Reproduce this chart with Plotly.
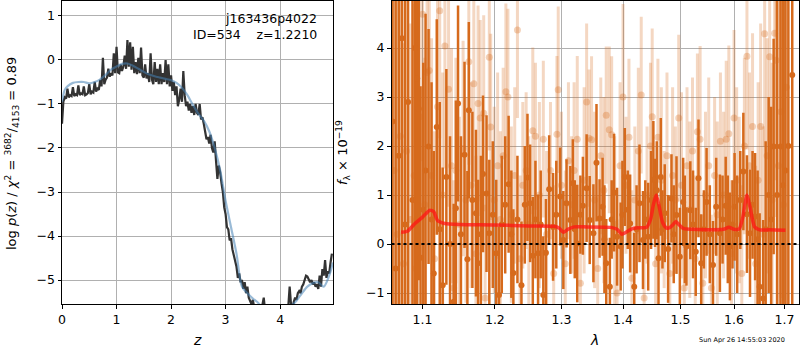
import plotly.graph_objects as go
import math

# ---------------- left panel: redshift PDF ----------------
z_grid = [0.000, 0.025, 0.050, 0.075, 0.100, 0.125, 0.150, 0.175, 0.200, 0.225, 0.250, 0.275, 0.300, 0.325, 0.350, 0.375,
          0.400, 0.425, 0.450, 0.475, 0.500, 0.525, 0.550, 0.575, 0.600, 0.625, 0.650, 0.675, 0.700, 0.725, 0.750, 0.775,
          0.800, 0.825, 0.850, 0.875, 0.900, 0.925, 0.950, 0.975, 1.000, 1.025, 1.050, 1.075, 1.100, 1.125, 1.150, 1.175,
          1.200, 1.225, 1.250, 1.275, 1.300, 1.325, 1.350, 1.375, 1.400, 1.425, 1.450, 1.475, 1.500, 1.525, 1.550, 1.575,
          1.600, 1.625, 1.650, 1.675, 1.700, 1.725, 1.750, 1.775, 1.800, 1.825, 1.850, 1.875, 1.900, 1.925, 1.950, 1.975,
          2.000, 2.025, 2.050, 2.075, 2.100, 2.125, 2.150, 2.175, 2.200, 2.225, 2.250, 2.275, 2.300, 2.325, 2.350, 2.375,
          2.400, 2.425, 2.450, 2.475, 2.500, 2.525, 2.550, 2.575, 2.600, 2.625, 2.650, 2.675, 2.700, 2.725, 2.750, 2.775,
          2.800, 2.825, 2.850, 2.875, 2.900, 2.925, 2.950, 2.975, 3.000, 3.025, 3.050, 3.075, 3.100, 3.125, 3.150, 3.175,
          3.200, 3.225, 3.250, 3.275, 3.300, 3.325, 3.350, 3.375, 3.400, 3.425, 3.450, 3.475, 3.500, 3.525, 3.550, 3.575,
          3.600, 3.625, 3.650, 3.675, 3.700, 3.725, 3.750, 3.775, 3.800, 3.825, 3.850, 3.875, 3.900, 3.925, 3.950, 3.975,
          4.000, 4.025, 4.050, 4.075, 4.100, 4.125, 4.150, 4.175, 4.200, 4.225, 4.250, 4.275, 4.300, 4.325, 4.350, 4.375,
          4.400, 4.425, 4.450, 4.475, 4.500, 4.525, 4.550, 4.575, 4.600, 4.625, 4.650, 4.675, 4.700, 4.725, 4.750, 4.775,
          4.800, 4.825, 4.850, 4.875, 4.900, 4.925, 4.950]
log_pz = [-1.45, -0.95, -0.85, -0.88, -0.65, -0.85, -0.80, -0.82, -0.62, -0.82, -0.78, -0.80, -0.58, -0.80, -0.76, -0.78,
          -0.60, -0.80, -0.78, -0.75, -0.55, -0.78, -0.72, -0.74, -0.50, -0.72, -0.65, -0.68, -0.45, -0.60, 0.05, -0.55,
          -0.45, -0.40, -0.20, -0.38, -0.30, -0.35, 0.15, -0.30, 0.30, -0.28, -0.30, -0.10, -0.25, -0.15, 0.10, -0.20,
          0.45, -0.15, 0.40, -0.22, 0.30, -0.30, -0.05, -0.32, 0.05, -0.30, 0.28, -0.35, -0.40, -0.10, -0.42, -0.30,
          -0.50, 0.15, -0.45, -0.55, -0.05, -0.50, -0.20, -0.55, -0.10, -0.55, -0.30, -0.50, 0.00, -0.55, -0.10, -0.60,
          -0.35, -0.70, -0.50, -0.80, -0.60, -1.05, -0.90, -0.65, -0.95, -0.25, -0.80, -1.05, -0.95, -1.15, -1.00, -1.20,
          -1.05, -1.25, -1.00, -1.20, -1.25, -1.00, -1.35, -1.30, -1.45, -1.60, -1.80, -1.75, -1.90, -1.70, -2.00, -2.10,
          -1.85, -2.30, -2.70, -2.40, -2.55, -2.80, -3.00, -3.35, -3.50, -3.80, -3.85, -4.10, -4.05, -4.30, -4.45, -4.55,
          -4.70, -4.95, -4.85, -5.05, -5.00, -5.20, -5.05, -5.30, -5.15, -5.40, -5.50, -5.55, -5.45, -5.65, -5.80, -5.85,
          -5.70, -5.90, -5.75, -5.60, -5.40, -5.70, -5.95, -6.10, -6.00, -6.20, -6.10, -6.30, -6.20, -6.10, -6.25, -6.10,
          -6.00, -6.15, -5.95, -6.05, -5.85, -5.75, -5.60, -5.15, -5.55, -5.65, -5.50, -5.40, -5.45, -5.30, -5.25, -5.30,
          -5.15, -5.10, -5.00, -4.90, -4.92, -5.00, -5.05, -5.00, -5.10, -5.05, -5.15, -5.10, -5.20, -4.90, -5.15, -4.75,
          -4.90, -4.55, -4.95, -4.80, -4.85, -4.60, -4.40]

z_smooth = [0.0, 0.05, 0.1, 0.2, 0.3, 0.4, 0.5, 0.6, 0.7, 0.8, 0.9, 1.0, 1.1, 1.2, 1.3, 1.4, 1.5, 1.6, 1.7, 1.8, 1.9,
            2.0, 2.1, 2.2, 2.3, 2.4, 2.5, 2.6, 2.7, 2.8, 2.9, 3.0, 3.1, 3.2, 3.3, 3.4, 3.5, 3.6, 3.7, 3.8, 3.9, 4.0,
            4.1, 4.2, 4.3, 4.4, 4.5, 4.6, 4.7, 4.8, 4.9, 4.97]
log_pz_smooth = [-0.95, -0.68, -0.60, -0.52, -0.50, -0.50, -0.53, -0.50, -0.44, -0.34, -0.22, -0.15, -0.09, -0.08,
                 -0.13, -0.20, -0.27, -0.33, -0.37, -0.40, -0.43, -0.46, -0.52, -0.63, -0.80, -1.02, -1.22, -1.38,
                 -1.62, -2.00, -2.50, -3.20, -3.80, -4.40, -5.15, -5.30, -5.42, -5.52, -5.70, -5.85, -5.90, -5.90,
                 -5.80, -5.60, -5.47, -5.30, -5.15, -5.07, -5.05, -5.15, -4.90, -4.60]

# ---------------- right panel: spectrum ----------------
dark_wave = [1.061, 1.065, 1.069, 1.073, 1.077, 1.081, 1.0868, 1.090, 1.093, 1.095, 1.0974, 1.101, 1.104, 1.108, 1.112,
             1.115, 1.119, 1.123, 1.127, 1.132, 1.137, 1.142, 1.145, 1.148, 1.152, 1.157, 1.161, 1.163, 1.168, 1.173,
             1.176, 1.180, 1.183, 1.188, 1.192, 1.197, 1.202, 1.206, 1.210, 1.215, 1.220, 1.224, 1.227, 1.233, 1.239,
             1.244, 1.248, 1.252, 1.256, 1.260, 1.264, 1.268, 1.272, 1.276, 1.281, 1.287, 1.292, 1.298, 1.303, 1.308,
             1.314, 1.318, 1.321, 1.325, 1.330, 1.334, 1.340, 1.345, 1.351, 1.356, 1.361, 1.366, 1.369, 1.372, 1.378,
             1.381, 1.385, 1.390, 1.396, 1.399, 1.403, 1.408, 1.412, 1.419, 1.423, 1.428, 1.434, 1.438, 1.443, 1.448,
             1.452, 1.455, 1.458, 1.461, 1.465, 1.468, 1.472, 1.478, 1.484, 1.488, 1.493, 1.499, 1.505, 1.508, 1.511,
             1.518, 1.523, 1.528, 1.533, 1.538, 1.543, 1.548, 1.554, 1.560, 1.566, 1.573, 1.578, 1.584, 1.588, 1.592,
             1.597, 1.601, 1.606, 1.612, 1.618, 1.625, 1.631, 1.636, 1.641, 1.646, 1.650, 1.657, 1.662, 1.668, 1.673,
             1.678, 1.685, 1.692, 1.697, 1.702, 1.708, 1.716]
dark_flux = [2.5, -0.5, 1.8, 4.2, 0.4, 2.9, 0.90, 4.0, 3.38, 2.76, -0.28, 0.7, 1.5, 1.99, 0.5,
             -0.6, 2.39, 0.3, -0.84, 1.37, 0.0, -1.18, 0.73, 2.87, 0.2, 1.82, -0.31, 2.73, 0.9, 0.63,
             -0.39, 0.2, 1.43, 1.03, 0.22, 0.6, -0.19, -1.04, 0.4, 0.8, 1.22, 0.2, -0.59, 0.5, -0.84,
             0.80, 1.36, 0.83, -0.24, 0.5, -0.19, 0.4, -1.04, -0.18, 1.12, 0.35, 0.6, 0.97, 0.08, 0.83,
             0.49, 1.24, 0.3, 0.01, 0.6, 0.78, 1.14, 0.49, 0.22, 1.66, 0.52, 0.76, 0.1, -0.39, -0.87,
             0.5, 1.05, 0.15, -0.05, 0.6, 1.37, 0.7, 0.42, -0.87, 0.3, 0.83, 0.08, 0.5, 0.15, 0.9,
             1.31, 0.84, 1.1, -0.29, 1.37, 0.3, 0.63, -0.1, 0.93, 0.2, 0.59, -0.26, 0.86, 0.3, -0.05,
             0.69, 0.4, -0.16, 1.34, -0.39, 0.3, 0.86, 0.2, -0.43, 0.76, 0.22, 0.5, 0.78, 0.3, -0.05,
             0.4, 0.76, 0.2, 0.9, 1.48, 0.61, 0.22, 0.8, 0.56, 0.1, -0.87, -1.11, 0.3, 1.0, 0.5,
             1.99, 1.0, 1.99, 1.2, 1.5, 2.0, 3.45]
dark_err = [9.0, 8.0, 9.0, 7.0, 8.0, 7.0, 6.0, 6.0, 5.0, 3.5, 3.5, 3.0, 3.2, 2.4, 2.8,
            2.5, 2.2, 2.6, 2.4, 2.2, 2.2, 2.0, 2.2, 2.0, 2.0, 1.9, 1.8, 1.8, 1.8, 1.7,
            1.7, 1.6, 1.6, 1.6, 1.5, 1.5, 1.5, 1.4, 1.4, 1.4, 1.4, 1.3, 1.3, 1.3, 1.3,
            1.2, 1.3, 1.2, 1.2, 1.2, 1.2, 1.1, 1.2, 1.1, 1.1, 1.1, 1.1, 1.0, 1.0, 0.9,
            1.1, 0.9, 1.0, 1.2, 0.8, 1.0, 1.1, 0.9, 1.0, 1.2, 0.8, 1.0, 1.1, 0.9, 1.0,
            0.8, 1.2, 1.0, 0.9, 1.1, 1.0, 0.8, 1.0, 1.1, 0.9, 1.2, 1.0, 0.8, 1.1, 1.0,
            1.2, 0.9, 1.0, 1.1, 1.2, 0.8, 1.0, 1.1, 0.9, 1.0, 1.2, 1.0, 0.9, 1.1, 0.8,
            1.0, 1.1, 0.9, 1.2, 1.0, 0.8, 1.1, 1.0, 0.9, 1.0, 1.2, 0.9, 1.0, 1.1, 1.1,
            0.9, 1.1, 1.2, 1.0, 1.2, 1.2, 1.3, 1.1, 1.3, 1.4, 1.5, 1.6, 1.8, 2.0, 2.3,
            2.2, 4.0, 4.5, 5.0, 5.5, 6.0, 7.0]

light_wave = [1.063, 1.067, 1.071, 1.075, 1.079, 1.084, 1.089, 1.091, 1.096, 1.100, 1.103, 1.106, 1.109, 1.112, 1.116,
              1.120, 1.123, 1.127, 1.130, 1.135, 1.139, 1.142, 1.145, 1.150, 1.155, 1.159, 1.163, 1.166, 1.170, 1.173,
              1.176, 1.179, 1.184, 1.186, 1.192, 1.194, 1.199, 1.204, 1.208, 1.212, 1.216, 1.219, 1.224, 1.229, 1.233,
              1.237, 1.241, 1.246, 1.250, 1.256, 1.260, 1.266, 1.272, 1.277, 1.283, 1.288, 1.293, 1.295, 1.300, 1.306,
              1.311, 1.316, 1.320, 1.325, 1.330, 1.336, 1.340, 1.344, 1.348, 1.353, 1.358, 1.363, 1.368, 1.372, 1.377,
              1.381, 1.386, 1.390, 1.395, 1.400, 1.405, 1.410, 1.415, 1.420, 1.426, 1.431, 1.436, 1.441, 1.447, 1.450,
              1.456, 1.460, 1.466, 1.471, 1.476, 1.481, 1.486, 1.491, 1.497, 1.502, 1.507, 1.512, 1.517, 1.522, 1.527,
              1.531, 1.536, 1.541, 1.546, 1.552, 1.557, 1.563, 1.568, 1.574, 1.580, 1.585, 1.590, 1.595, 1.600, 1.605,
              1.610, 1.615, 1.620, 1.625, 1.630, 1.636, 1.642, 1.647, 1.652, 1.657, 1.660, 1.665, 1.670, 1.675, 1.680,
              1.683, 1.688, 1.693, 1.698, 1.704]
light_flux = [1.5, 0.2, 2.2, -0.4, 1.9, 0.5, 1.4, -0.5, 2.6, 4.69, 0.8, 3.5, 3.54, 1.4, -0.3,
              2.8, 4.76, 1.0, 4.04, 3.16, 1.6, -0.9, 1.5, 0.4, 1.95, 0.9, 3.72, 1.2, 3.27, -0.2,
              2.87, 2.57, 2.67, -1.1, 3.81, 2.39, 0.9, 1.6, 0.5, 1.8, 3.11, 3.0, 0.6, 1.4, 4.37,
              -0.3, 1.2, 1.5, 0.4, 2.31, 2.2, 1.0, 2.14, 0.2, 1.5, -0.6, 2.24, 3.15, 1.2, -0.4,
              1.7, 0.8, 1.5, 2.14, -0.8, 1.3, 2.90, 2.16, 2.13, 0.9, -0.5, 1.8, 1.1, 2.63, 2.33,
              2.23, 0.4, -1.0, 1.6, 3.0, 1.2, 2.18, -0.7, 0.9, 1.9, 3.04, -1.1, 1.0, 2.0, 2.6,
              -0.4, 2.18, 1.3, 0.5, 1.8, -0.6, 1.4, 0.9, 2.57, 1.2, -0.9, 1.6, 0.7, 1.9, -0.3,
              2.29, 2.14, -0.8, 1.0, 1.6, -0.9, 1.4, 0.6, 2.1, 1.0, 2.14, 2.25, -0.2, 2.57, 1.3,
              0.9, -0.6, 2.0, 3.83, 1.6, 2.4, -0.4, 1.3, 2.4, 0.2, 4.29, 1.8, 3.82, 0.9, 4.3,
              3.75, 1.6, 2.7, 0.8, 3.2]
light_err = [5.0, 5.0, 4.5, 4.5, 4.0, 4.0, 3.5, 3.2, 3.2, 3.0, 3.0, 2.8, 2.8, 2.8, 2.6,
             2.6, 2.6, 2.5, 2.5, 2.4, 2.4, 2.2, 2.3, 2.2, 2.2, 2.1, 2.1, 2.1, 2.0, 2.0,
             2.0, 2.0, 2.0, 1.9, 1.9, 1.9, 1.9, 1.9, 1.8, 1.8, 1.8, 1.8, 1.8, 1.8, 1.8,
             1.7, 1.7, 1.6, 1.8, 1.7, 1.5, 1.9, 1.6, 1.7, 1.4, 1.8, 1.6, 1.7, 1.5, 1.9,
             1.6, 1.4, 1.8, 1.7, 1.5, 1.9, 1.6, 1.4, 1.7, 1.8, 1.5, 1.6, 1.9, 1.4, 1.7,
             1.6, 1.8, 1.5, 1.7, 1.9, 1.4, 1.6, 1.8, 1.5, 1.7, 1.6, 1.9, 1.4, 1.7, 1.8,
             1.5, 1.6, 1.9, 1.4, 1.7, 1.6, 1.8, 1.5, 1.7, 1.9, 1.4, 1.6, 1.8, 1.5, 1.7,
             1.6, 1.9, 1.4, 1.7, 1.8, 1.5, 1.6, 1.9, 1.4, 1.7, 1.6, 1.8, 1.5, 1.8, 1.9,
             1.7, 1.8, 1.8, 1.9, 1.9, 1.9, 2.0, 2.0, 2.1, 2.2, 2.3, 2.4, 2.6, 2.8, 3.0,
             3.2, 3.5, 3.8, 4.2, 4.5]

model_wave = [1.072, 1.080, 1.090, 1.100, 1.1097, 1.115, 1.120, 1.130, 1.150, 1.200, 1.250, 1.290, 1.297, 1.303, 1.310,
              1.320, 1.340, 1.380, 1.390, 1.398, 1.405, 1.415, 1.425, 1.440, 1.447, 1.452, 1.457, 1.462, 1.468, 1.475,
              1.480, 1.487, 1.492, 1.497, 1.505, 1.520, 1.550, 1.580, 1.590, 1.600, 1.610, 1.617, 1.625, 1.631, 1.640,
              1.650, 1.670, 1.702]
model_flux = [0.24, 0.26, 0.42, 0.55, 0.69, 0.66, 0.48, 0.42, 0.40, 0.39, 0.37, 0.36, 0.32, 0.24, 0.30,
              0.35, 0.35, 0.34, 0.30, 0.20, 0.24, 0.31, 0.33, 0.34, 0.50, 0.80, 1.00, 0.78, 0.45, 0.33,
              0.33, 0.40, 0.46, 0.40, 0.32, 0.30, 0.29, 0.30, 0.34, 0.30, 0.31, 0.55, 1.00, 0.75, 0.35,
              0.29, 0.29, 0.28]

x_ticks_left = [0, 1, 2, 3, 4]
y_ticks_left = [-5, -4, -3, -2, -1, 0, 1]
x_ticks_right = [1.1, 1.2, 1.3, 1.4, 1.5, 1.6, 1.7]
y_ticks_right = [-1, 0, 1, 2, 3, 4]

W, H = 800, 350
DARK = "rgb(214,106,28)"
FONT = "DejaVu Sans"

fig = go.Figure()

fig.add_trace(go.Scatter(x=z_grid, y=log_pz, mode="lines", line=dict(color="rgb(51,51,51)", width=2.2),
                         xaxis="x", yaxis="y", showlegend=False))
fig.add_trace(go.Scatter(x=z_smooth, y=log_pz_smooth, mode="lines",
                         line=dict(color="rgba(70,130,180,0.55)", width=2.2, shape="spline", smoothing=0.8),
                         xaxis="x", yaxis="y", showlegend=False))

fig.add_trace(go.Scatter(x=light_wave, y=light_flux, mode="markers",
                         marker=dict(size=7, color="rgba(214,106,28,0.3)", line=dict(width=0)),
                         error_y=dict(type="data", array=light_err, color="rgba(214,106,28,0.27)",
                                      thickness=3, width=0),
                         xaxis="x2", yaxis="y2", showlegend=False))
fig.add_trace(go.Scatter(x=dark_wave, y=dark_flux, mode="markers",
                         marker=dict(size=6, color=DARK, line=dict(width=0)),
                         error_y=dict(type="data", array=dark_err, color=DARK, thickness=2.5, width=0),
                         xaxis="x2", yaxis="y2", showlegend=False))
fig.add_trace(go.Scatter(x=model_wave, y=model_flux, mode="lines",
                         line=dict(color="rgba(255,20,20,0.75)", width=3.5, shape="spline", smoothing=0.6),
                         xaxis="x2", yaxis="y2", showlegend=False))

fig.add_shape(type="line", xref="x2 domain", yref="y2", x0=0, x1=1, y0=0, y1=0,
              line=dict(color="black", width=2, dash="dot"), layer="above")

ydom = [1 - 304 / H, 1 - 1 / H]
common = dict(showgrid=True, gridcolor="#b0b0b0", gridwidth=1, showline=True, linecolor="black", linewidth=1,
              mirror=True, ticks="outside", ticklen=3.5, tickcolor="black", zeroline=False,
              tickfont=dict(family=FONT, size=12.5, color="black"), automargin=False)

fig.update_layout(
    width=W, height=H, margin=dict(l=0, r=0, t=0, b=0),
    paper_bgcolor="white", plot_bgcolor="white",
    font=dict(family=FONT, color="black"),
    xaxis=dict(domain=[62 / W, 333 / W], range=[0, 4.97], tickvals=x_ticks_left, anchor="y", **common),
    yaxis=dict(domain=ydom, range=[-5.545, 1.34], tickvals=y_ticks_left, anchor="x", **common),
    xaxis2=dict(domain=[391.5 / W, 799 / W], type="log", range=[math.log10(1.0597), math.log10(1.730)],
                tickvals=x_ticks_right, ticktext=[f"{v:.1f}" for v in x_ticks_right], anchor="y2", **common),
    yaxis2=dict(domain=ydom, range=[-1.224, 4.96], tickvals=y_ticks_right, anchor="x2", **common),
)

def px(x, y):
    return x / W, 1 - y / H

ann = []
ax_, ay_ = px(319, 19)
ann.append(dict(text="j163436p4022", x=ax_, y=ay_, xanchor="right", yanchor="middle", font=dict(size=12.5)))
ax_, ay_ = px(319, 35)
ann.append(dict(text="ID=534    z=1.2210", x=ax_, y=ay_, xanchor="right", yanchor="middle", font=dict(size=12.5)))
ax_, ay_ = px(197, 340)
ann.append(dict(text="<i>z</i>", x=ax_, y=ay_, xanchor="center", yanchor="middle", font=dict(size=14)))
ax_, ay_ = px(594, 340)
ann.append(dict(text="<i>λ</i>", x=ax_, y=ay_, xanchor="center", yanchor="middle", font=dict(size=14)))
ax_, ay_ = px(12, 154)
ann.append(dict(text="log <i>p</i>(<i>z</i>) / <i>χ</i><sup>2</sup> = <sup>3682</sup>/<sub>4153</sub> = 0.89",
                x=ax_, y=ay_, xanchor="center", yanchor="middle", textangle=-90, font=dict(size=13)))
ax_, ay_ = px(343, 153)
ann.append(dict(text="<i>f</i><sub>λ</sub> × 10<sup>−19</sup>",
                x=ax_, y=ay_, xanchor="center", yanchor="middle", textangle=-90, font=dict(size=13)))
ax_, ay_ = px(742, 339.5)
ann.append(dict(text="Sun Apr 26 14:55:03 2020", x=ax_, y=ay_, xanchor="center", yanchor="middle",
                font=dict(size=6.5)))
for a in ann:
    a.update(xref="paper", yref="paper", showarrow=False)
    a["font"].update(family=FONT, color="black")
fig.update_layout(annotations=ann)

fig.write_html("out.html", config={"displayModeBar": False},
               post_script="document.body.style.margin='0';document.body.style.padding='0';"
                           "document.body.style.overflow='hidden';")
